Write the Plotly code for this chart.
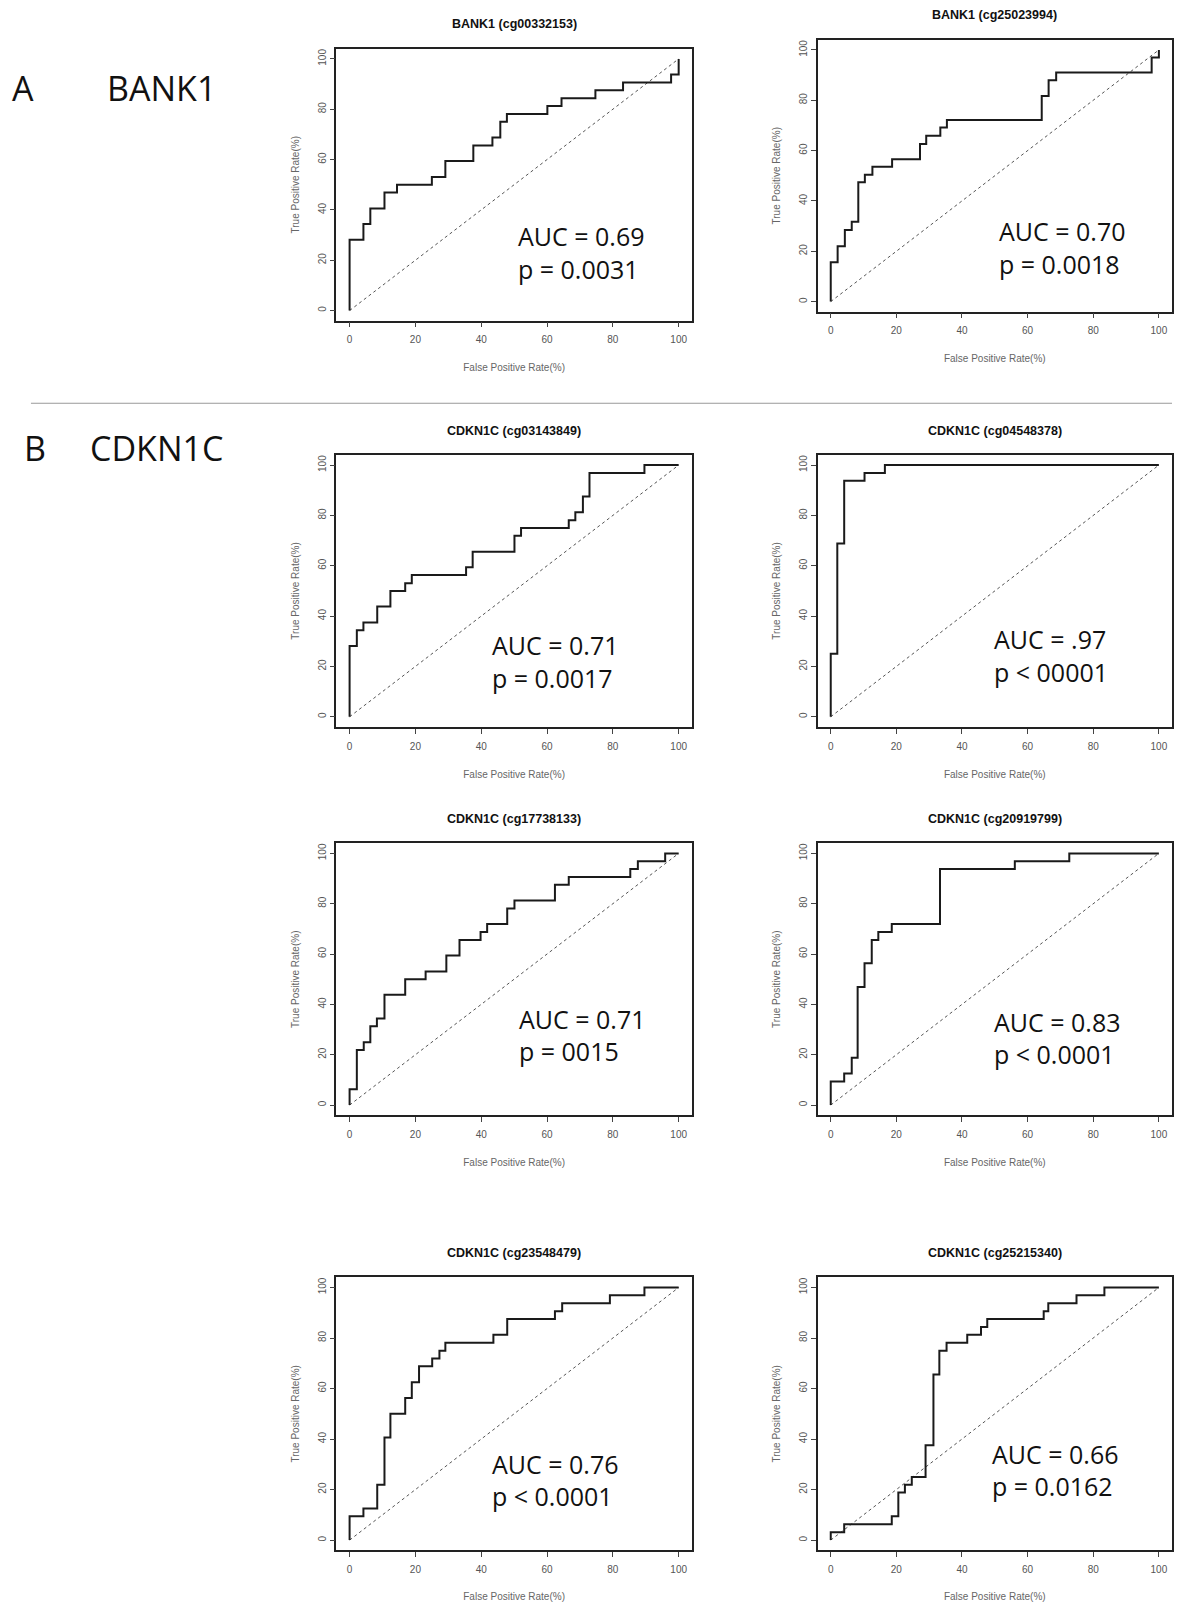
import plotly.graph_objects as go

# The page has an 8px body margin; the figure is sized so no scrollbars appear.
OFF = 8
W, H = 1182 - 2 * OFF, 1610 - 2 * OFF

# ---------------- data ----------------
titles = ["BANK1 (cg00332153)", "BANK1 (cg25023994)",
          "CDKN1C (cg03143849)", "CDKN1C (cg04548378)",
          "CDKN1C (cg17738133)", "CDKN1C (cg20919799)",
          "CDKN1C (cg23548479)", "CDKN1C (cg25215340)"]
auc_text = ["AUC = 0.69", "AUC = 0.70", "AUC = 0.71", "AUC = .97",
            "AUC = 0.71", "AUC = 0.83", "AUC = 0.76", "AUC = 0.66"]
p_text = ["p = 0.0031", "p = 0.0018", "p = 0.0017", "p < 00001",
          "p = 0015", "p < 0.0001", "p < 0.0001", "p = 0.0162"]

fpr1 = [0, 0, 4.2, 6.3, 10.6, 14.4, 25.0, 29.1, 37.6, 43.4, 45.8, 47.8, 60.1, 64.4, 74.7, 83.1, 97.7, 100]
tpr1 = [0, 28.1, 34.4, 40.6, 46.9, 50.0, 53.1, 59.4, 65.6, 68.8, 75.0, 78.1, 81.3, 84.4, 87.5, 90.6, 93.8, 100]

fpr2 = [0, 0, 2.1, 4.3, 6.4, 8.4, 10.4, 12.7, 18.7, 27.2, 29.1, 33.4, 35.4, 64.3, 66.4, 68.7, 97.8, 100]
tpr2 = [0, 15.6, 22.0, 28.4, 31.7, 47.4, 50.4, 53.6, 56.6, 62.6, 65.9, 69.2, 72.2, 81.7, 88.0, 91.0, 97.0, 100]

fpr3 = [0, 0, 2.2, 4.2, 8.4, 12.4, 16.9, 18.9, 35.4, 37.4, 50.1, 52.1, 66.6, 68.6, 70.9, 72.9, 89.6, 100]
tpr3 = [0, 28.1, 34.4, 37.5, 43.8, 50.0, 53.1, 56.3, 59.4, 65.6, 71.9, 75.0, 78.1, 81.3, 87.5, 96.9, 100, 100]

fpr4 = [0, 0, 2.0, 4.1, 10.3, 16.5, 100]
tpr4 = [0, 25.0, 68.8, 93.8, 96.9, 100, 100]

fpr5 = [0, 0, 2.2, 4.3, 6.3, 8.3, 10.6, 16.9, 23.1, 29.4, 33.4, 39.8, 41.8, 47.9, 50.1, 62.4, 66.6, 85.3, 87.6, 95.9, 100]
tpr5 = [0, 6.3, 21.9, 25.0, 31.3, 34.4, 43.8, 50.0, 53.1, 59.4, 65.6, 68.8, 71.9, 78.1, 81.3, 87.5, 90.6, 93.8, 96.9, 100, 100]

fpr6 = [0, 0, 4.1, 6.4, 8.2, 10.3, 12.5, 14.5, 18.6, 33.3, 56.1, 72.7, 100]
tpr6 = [0, 9.4, 12.5, 18.8, 46.9, 56.3, 65.6, 68.8, 71.9, 93.8, 96.9, 100, 100]

fpr7 = [0, 0, 4.2, 8.4, 10.6, 12.4, 16.9, 18.9, 21.1, 25.1, 27.3, 29.1, 43.7, 47.9, 62.4, 64.6, 79.1, 89.6, 100]
tpr7 = [0, 9.4, 12.5, 21.9, 40.6, 50.0, 56.3, 62.5, 68.8, 71.9, 75.0, 78.1, 81.3, 87.5, 90.6, 93.8, 96.9, 100, 100]

fpr8 = [0, 0, 4.1, 18.6, 20.6, 22.6, 24.7, 28.9, 31.3, 33.1, 35.3, 41.6, 45.8, 47.7, 64.9, 66.3, 74.9, 83.4, 100]
tpr8 = [0, 3.1, 6.3, 9.4, 18.8, 21.9, 25.0, 37.5, 65.6, 75.0, 78.1, 81.3, 84.4, 87.5, 90.6, 93.8, 96.9, 100, 100]

ref_line = [0, 100]
tick_vals = [0, 20, 40, 60, 80, 100]
tick_text = ["0", "20", "40", "60", "80", "100"]
x_title = "False Positive Rate(%)"
y_title = "True Positive Rate(%)"

curves = [(fpr1, tpr1), (fpr2, tpr2), (fpr3, tpr3), (fpr4, tpr4),
          (fpr5, tpr5), (fpr6, tpr6), (fpr7, tpr7), (fpr8, tpr8)]

# ---------------- layout geometry (page pixels) ----------------
boxes = [(337, 693, 49, 322), (819, 1174, 40, 313),
         (337, 693, 457, 730), (819, 1174, 457, 730),
         (337, 693, 847, 1120), (819, 1174, 847, 1120),
         (337, 693, 1283, 1557), (819, 1174, 1283, 1557)]
title_y = [24, 15, 433, 433, 823, 823, 1258, 1258]
auc_pos = [(517, 237), (999, 232), (491, 648), (994, 642),
           (518, 1023), (994, 1026), (491, 1470), (992, 1460)]


def px(x):
    return min(1.0, max(0.0, (x - OFF) / W))


def py(y):
    return min(1.0, max(0.0, 1 - (y - OFF) / H))


fig = go.Figure()
layout = dict(width=W, height=H, margin=dict(l=0, r=0, t=0, b=0),
              paper_bgcolor="white", plot_bgcolor="white", showlegend=False)
annotations = []

for i, ((fx, ty), (l, r, t, b)) in enumerate(zip(curves, boxes)):
    n = i + 1
    xa = "x" if n == 1 else f"x{n}"
    ya = "y" if n == 1 else f"y{n}"
    fig.add_trace(go.Scatter(x=ref_line, y=ref_line, mode="lines", xaxis=xa, yaxis=ya,
                             line=dict(color="#555555", width=1, dash="3px,3px"),
                             hoverinfo="skip"))
    fig.add_trace(go.Scatter(x=fx, y=ty, mode="lines", xaxis=xa, yaxis=ya,
                             line=dict(color="#1a1a1a", width=2, shape="hv")))
    axis_common = dict(range=[-4, 104], showgrid=False, zeroline=False,
                       showline=True, linecolor="#222222", linewidth=1.5, mirror=True,
                       ticks="outside", ticklen=5, tickcolor="#444444", tickwidth=1,
                       tickvals=tick_vals, ticktext=tick_text,
                       tickfont=dict(family="Liberation Sans, Arial", size=10, color="#555555"),
                       fixedrange=True)
    layout["xaxis" if n == 1 else f"xaxis{n}"] = dict(
        axis_common, domain=[px(l), px(r)], anchor=ya, ticklabelstandoff=4,
        title=dict(text=x_title, standoff=20,
                   font=dict(family="Liberation Sans, Arial", size=10, color="#666666")))
    layout["yaxis" if n == 1 else f"yaxis{n}"] = dict(
        axis_common, domain=[py(b), py(t)], anchor=xa, tickangle=-90,
        title=dict(text=y_title, standoff=15,
                   font=dict(family="Liberation Sans, Arial", size=10, color="#666666")))
    annotations.append(dict(text=f"<b>{titles[i]}</b>", x=px((l + r) / 2), y=py(title_y[i]),
                            xref="paper", yref="paper", showarrow=False,
                            xanchor="center", yanchor="middle",
                            font=dict(family="Liberation Sans, Arial", size=12.5, color="#111111")))
    ax_, ay_ = auc_pos[i]
    annotations.append(dict(text=auc_text[i], x=px(ax_), y=py(ay_), xref="paper", yref="paper",
                            showarrow=False, xanchor="left", yanchor="middle",
                            font=dict(family="Open Sans", size=25, color="#111111")))
    annotations.append(dict(text=p_text[i], x=px(ax_), y=py(ay_ + 33), xref="paper", yref="paper",
                            showarrow=False, xanchor="left", yanchor="middle",
                            font=dict(family="Open Sans", size=25, color="#111111")))

# panel labels
for txt, x, y in [("A", 10, 88), ("BANK1", 105, 88), ("B", 22, 450), ("CDKN1C", 88, 450)]:
    annotations.append(dict(text=txt, x=px(x), y=py(y), xref="paper", yref="paper",
                            showarrow=False, xanchor="left", yanchor="middle",
                            font=dict(family="Open Sans", size=34, color="#111111")))

layout["annotations"] = annotations
layout["shapes"] = [dict(type="line", xref="paper", yref="paper",
                         x0=px(31), x1=1, y0=py(405), y1=py(405),
                         line=dict(color="#999999", width=1))]
fig.update_layout(**layout)
fig.write_html("out.html")
